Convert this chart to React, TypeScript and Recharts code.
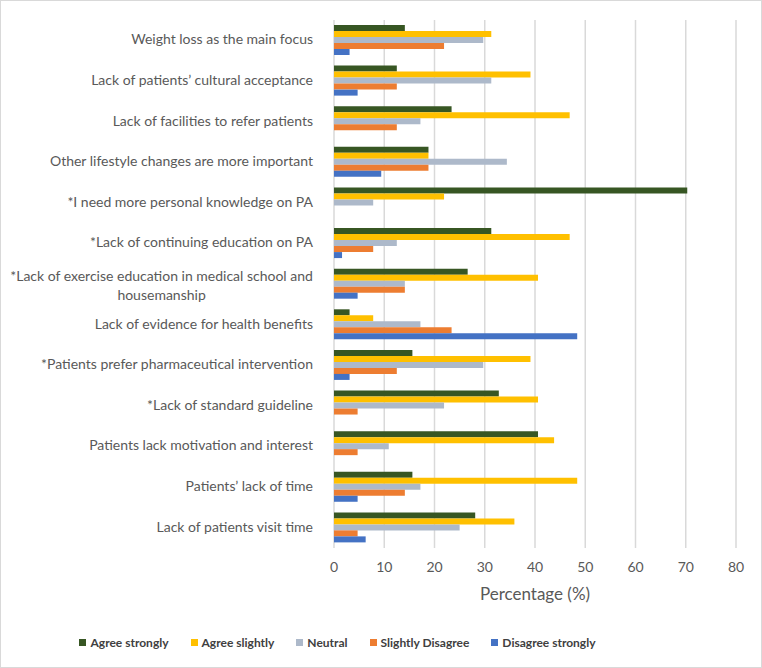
import React from "react";
import { BarChart, Bar, XAxis, YAxis, CartesianGrid, Legend } from "recharts";

const categories = [
  "Weight loss as the main focus",
  "Lack of patients’ cultural acceptance",
  "Lack of facilities to refer patients",
  "Other lifestyle changes are more important",
  "*I need more personal knowledge on PA",
  "*Lack of continuing education on PA",
  "*Lack of exercise education in medical school and housemanship",
  "Lack of evidence for health benefits",
  "*Patients prefer pharmaceutical intervention",
  "*Lack of standard guideline",
  "Patients lack motivation and interest",
  "Patients’ lack of time",
  "Lack of patients visit time",
];

const agreeStrongly = [14.1, 12.5, 23.4, 18.8, 70.3, 31.3, 26.6, 3.1, 15.6, 32.8, 40.6, 15.6, 28.1];
const agreeSlightly = [31.3, 39.1, 46.9, 18.8, 21.9, 46.9, 40.6, 7.8, 39.1, 40.6, 43.8, 48.4, 35.9];
const neutral = [29.7, 31.3, 17.2, 34.4, 7.8, 12.5, 14.1, 17.2, 29.7, 21.9, 10.9, 17.2, 25.0];
const slightlyDisagree = [21.9, 12.5, 12.5, 18.8, 0, 7.8, 14.1, 23.4, 12.5, 4.7, 4.7, 14.1, 4.7];
const disagreeStrongly = [3.1, 4.7, 0, 9.4, 0, 1.6, 4.7, 48.4, 3.1, 0, 0, 4.7, 6.3];

const xTicks = [0, 10, 20, 30, 40, 50, 60, 70, 80];

const SERIES = [
  { key: "agreeStrongly", name: "Agree strongly", color: "#375623" },
  { key: "agreeSlightly", name: "Agree slightly", color: "#FFC000" },
  { key: "neutral", name: "Neutral", color: "#ADB9CA" },
  { key: "slightlyDisagree", name: "Slightly Disagree", color: "#ED7D31" },
  { key: "disagreeStrongly", name: "Disagree strongly", color: "#4472C4" },
];

const data = categories.map((name, i) => ({
  name,
  agreeStrongly: agreeStrongly[i],
  agreeSlightly: agreeSlightly[i],
  neutral: neutral[i],
  slightlyDisagree: slightlyDisagree[i],
  disagreeStrongly: disagreeStrongly[i],
}));

const FONT = "Lato, 'Open Sans', sans-serif";
const TEXT_COLOR = "#595959";
const LABEL_SIZE = 14;

let measureCtx: CanvasRenderingContext2D | null = null;
const measure = (text: string) => {
  if (!measureCtx) {
    measureCtx = document.createElement("canvas").getContext("2d");
  }
  if (!measureCtx) return text.length * 6.5;
  measureCtx.font = `${LABEL_SIZE}px ${FONT}`;
  return measureCtx.measureText(text).width;
};

const CategoryTick = (props: any) => {
  const { x, y, payload } = props;
  const text: string = payload.value;
  const maxChars = 50;
  if (text.length <= maxChars) {
    return (
      <text x={x} y={y} dy={4} textAnchor="end" fill={TEXT_COLOR} fontSize={LABEL_SIZE} fontFamily={FONT}>
        {text}
      </text>
    );
  }
  const cut = text.lastIndexOf(" ", maxChars);
  const line1 = text.slice(0, cut);
  const line2 = text.slice(cut + 1);
  const mid = x - measure(line1) / 2;
  return (
    <text y={y} textAnchor="middle" fill={TEXT_COLOR} fontSize={LABEL_SIZE} fontFamily={FONT}>
      <tspan x={mid} dy={-3}>{line1}</tspan>
      <tspan x={mid} dy={19}>{line2}</tspan>
    </text>
  );
};

const renderLegend = () => (
  <div
    style={{
      display: "flex",
      justifyContent: "center",
      paddingRight: 40,
      marginTop: 8,
      fontFamily: FONT,
      fontSize: 12,
      fontWeight: 700,
      color: "#404040",
    }}
  >
    {SERIES.map((s) => (
      <div key={s.key} style={{ display: "flex", alignItems: "center", marginRight: 22 }}>
        <span style={{ width: 7, height: 7, background: s.color, marginRight: 4, display: "inline-block" }} />
        <span>{s.name}</span>
      </div>
    ))}
  </div>
);

export default function App() {
  return (
    <div
      style={{
        position: "absolute",
        left: 0,
        top: 0,
        width: 760,
        height: 666,
        border: "1px solid #d9d9d9",
        background: "#fff",
      }}
    >
      <BarChart
        width={760}
        height={666}
        data={data}
        layout="vertical"
        margin={{ top: 19, right: 25, bottom: 10, left: 0 }}
        barSize={6}
        barGap={0}
      >
        <CartesianGrid horizontal={false} stroke="#d9d9d9" strokeWidth={1.5} />
        <XAxis
          type="number"
          domain={[0, 80]}
          ticks={xTicks}
          axisLine={false}
          tickLine={false}
          height={79}
          tickMargin={8}
          tick={{ fill: TEXT_COLOR, fontSize: 14, fontFamily: FONT }}
          label={{
            value: "Percentage (%)",
            position: "insideBottom",
            offset: 27,
            fill: TEXT_COLOR,
            fontSize: 17,
            fontFamily: FONT,
          }}
        />
        <YAxis
          type="category"
          dataKey="name"
          width={333}
          axisLine={false}
          tickLine={false}
          tickSize={0}
          tickMargin={21}
          interval={0}
          tick={<CategoryTick />}
        />
        <Legend verticalAlign="bottom" height={30} content={renderLegend} />
        {SERIES.map((s) => (
          <Bar key={s.key} dataKey={s.key} name={s.name} fill={s.color} isAnimationActive={false} />
        ))}
      </BarChart>
    </div>
  );
}
